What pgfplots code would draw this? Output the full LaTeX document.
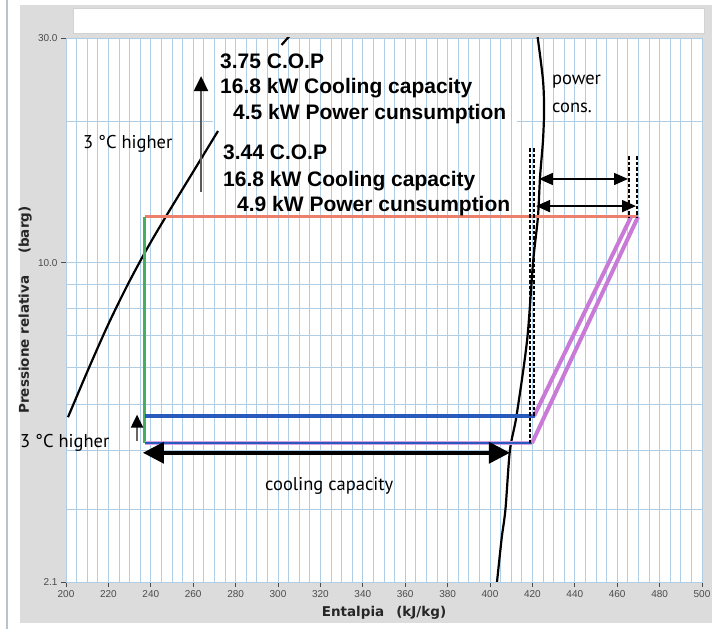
\documentclass[border=0pt]{standalone}
\usepackage{fontspec}
\setmainfont{Liberation Sans}
\newfontfamily\ptsans{PT Sans}
\newfontfamily\verd{DejaVu Sans}
\usepackage{pgfplots}
\pgfplotsset{compat=1.18}
\usetikzlibrary{arrows.meta}
\definecolor{panel}{RGB}{220,220,220}
\definecolor{gridc}{RGB}{175,205,228}
\definecolor{redl}{RGB}{236,128,108}
\definecolor{greenl}{RGB}{70,175,95}
\definecolor{bluel}{RGB}{40,90,190}
\definecolor{purpl}{RGB}{200,122,214}
\definecolor{tickc}{RGB}{75,75,75}
\begin{document}
\begin{tikzpicture}
\useasboundingbox (0pt,0pt) rectangle (712pt,629pt);
\fill[white] (0pt,0pt) rectangle (712pt,629pt);
\fill[panel] (20pt,6pt) rectangle (712pt,624pt);
\draw[color={rgb,255:red,185;green,195;blue,205}, line width=2pt] (7pt,0pt) -- (7pt,629pt);
\fill[white] (73pt,596pt) rectangle (704pt,621pt);
\draw[gray!35, line width=0.8pt] (73pt,596pt) rectangle (704pt,621pt);
\begin{axis}[
  at={(66pt,47pt)}, anchor=south west,
  scale only axis, width=636pt, height=544pt,
  axis background/.style={fill=white},
  xmin=200, xmax=500, ymode=log, ymin=2.1, ymax=30,
  xtick={200,220,...,500},
  xticklabels={200,220,240,260,280,300,320,340,360,380,400,420,440,460,480,500},
  minor x tick num=3,
  ytick={2.1,10,30}, yticklabels={2.1,10.0,30.0},
  minor ytick={3,4,5,6,7,8,9},
  xmajorgrids, xminorgrids, ymajorgrids, yminorgrids,
  grid style={gridc, line width=0.9pt},
  minor grid style={gridc, line width=0.9pt},
  axis line style={gridc, line width=0.9pt},
  tick align=outside, major tick length=5pt, minor tick length=0pt,
  xtick pos=bottom, ytick pos=left,
  tick style={tickc, line width=0.8pt},
  ticklabel style={font=\fontsize{10}{10}\selectfont, text=tickc},
  xlabel={Entalpia\hspace{12pt}(kJ/kg)},
  ylabel={Pressione relativa\hspace{22pt}(barg)},
  label style={font=\verd\bfseries\fontsize{13.5}{14}\selectfont, text=black!85},
  xlabel style={at={(axis description cs:0.5,-0.057)}, anchor=center},
  ylabel style={at={(axis description cs:-0.064,0.5)}, anchor=center},
]
% partial 20 bar gridline
\addplot[gridc, line width=0.9pt] coordinates {(200,20) (269.3,20)};
\addplot[gridc, line width=0.9pt] coordinates {(412.7,20) (500,20)};
% saturated liquid line
\addplot[black, line width=2.2pt, smooth] coordinates {(200.94,4.70) (210.38,5.92) (219.81,7.38) (229.25,9.01) (238.68,10.80) (248.11,12.75) (259.91,15.58) (271.70,19.04)};
\addplot[black, line width=2.2pt] coordinates {(301.7,29.0) (305.7,30.4)};
% saturated vapour line
\addplot[black, line width=2.2pt, smooth] coordinates {(403.3,2.1) (405.5,2.6) (407.3,3.0) (409.4,4.0) (412.5,4.73) (417.5,6.85) (420.3,10.0) (422.6,12.5) (423.6,15.2) (425.0,18.2) (425.5,21.1) (425.0,24.4) (422.6,29.85) (422.3,30.5)};
% condensing line
\addplot[redl, line width=3pt] coordinates {(237.3,12.51) (469.8,12.51)};
% expansion
\addplot[greenl, line width=2.5pt] coordinates {(237.0,12.51) (237.0,4.14)};
% evaporation lines
\addplot[bluel, line width=3.6pt] coordinates {(237.3,4.73) (421.2,4.73)};
\addplot[purpl!70, line width=3.8pt] coordinates {(237.3,4.14) (419.8,4.14)};
\addplot[bluel, line width=1.8pt] coordinates {(237.3,4.14) (419.8,4.14)};
% compression
\addplot[purpl, line width=4pt] coordinates {(420.8,4.73) (466.5,12.51)};
\addplot[purpl, line width=4pt] coordinates {(419.8,4.14) (469.8,12.51)};
% dashed verticals
\addplot[black, line width=1.4pt, dash pattern=on 3.5pt off 2pt] coordinates {(418.9,17.5) (418.9,4.14)};
\addplot[black, line width=1.4pt, dash pattern=on 3.5pt off 2pt] coordinates {(420.8,17.5) (420.8,4.73)};
\addplot[black, line width=1.4pt, dash pattern=on 3.5pt off 2pt] coordinates {(465.6,16.85) (465.6,12.51)};
\addplot[black, line width=1.4pt, dash pattern=on 3.5pt off 2pt] coordinates {(469.3,16.85) (469.3,12.51)};
% power arrows
\addplot[black, line width=1.6pt, {Triangle[length=14pt,width=12pt]}-{Triangle[length=14pt,width=12pt]}] coordinates {(423.1,15.06) (465.1,15.06)};
\addplot[black, line width=1.6pt, {Triangle[length=14pt,width=12pt]}-{Triangle[length=14pt,width=12pt]}] coordinates {(421.7,13.19) (468.9,13.19)};
% cooling capacity arrow
\addplot[black, line width=3.5pt, {Triangle[length=21pt,width=21pt]}-{Triangle[length=21pt,width=21pt]}] coordinates {(236.3,3.95) (409.4,3.95)};
% up arrows
\addplot[black!60, line width=2pt, -{Triangle[length=13pt,width=12pt,black]}] coordinates {(233.5,4.18) (233.5,4.76)};
\addplot[black!65, line width=2.4pt, -{Triangle[length=15pt,width=14pt,black]}] coordinates {(263.7,14.13) (263.7,24.9)};
\end{axis}
% annotations
\begin{scope}[every node/.style={inner sep=0pt, anchor=base west}]
\node[font=\bfseries\fontsize{21}{25}\selectfont] at (220pt,560pt) {3.75 C.O.P};
\node[font=\bfseries\fontsize{21}{25}\selectfont] at (220pt,535pt) {16.8 kW Cooling capacity};
\node[font=\bfseries\fontsize{21}{25}\selectfont] at (233pt,509pt) {4.5 kW Power cunsumption};
\node[font=\bfseries\fontsize{21}{25}\selectfont] at (223pt,469pt) {3.44 C.O.P};
\node[font=\bfseries\fontsize{21}{25}\selectfont] at (223pt,442pt) {16.8 kW Cooling capacity};
\node[font=\bfseries\fontsize{21}{25}\selectfont] at (237pt,417pt) {4.9 kW Power cunsumption};
\node[font=\ptsans\fontsize{18.5}{20}\selectfont, text=black] at (83pt,480pt) {3 °C higher};
\node[font=\ptsans\fontsize{18.5}{20}\selectfont, text=black] at (20pt,181pt) {3 °C higher};
\node[font=\ptsans\fontsize{18.5}{20}\selectfont, text=black] at (265pt,138pt) {cooling capacity};
\node[font=\ptsans\fontsize{18.5}{20}\selectfont, text=black] at (552pt,544pt) {power};
\node[font=\ptsans\fontsize{18.5}{20}\selectfont, text=black] at (552pt,516pt) {cons.};
\end{scope}
\end{tikzpicture}
\end{document}
